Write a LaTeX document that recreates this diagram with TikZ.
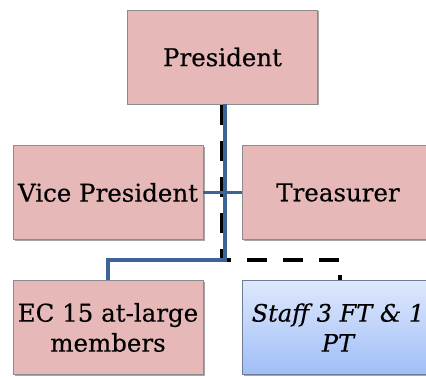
\documentclass[tikz,border=0pt]{standalone}
\usepackage{fontspec}
\setmainfont{DejaVu Serif}[FakeBold=0.35]
\usetikzlibrary{shadows}
\definecolor{pinkfill}{RGB}{230,184,183}
\definecolor{boxline}{RGB}{140,140,140}
\definecolor{linkblue}{RGB}{61,100,150}
\definecolor{stafftop}{RGB}{222,232,252}
\definecolor{staffbot}{RGB}{160,190,248}
\definecolor{staffline}{RGB}{110,125,150}
\tikzset{
  rolebox/.style={draw=boxline, line width=0.8pt, fill=pinkfill, minimum width=190pt, minimum height=94pt,
    inner sep=0pt, align=center, font=\fontsize{24.5}{30}\selectfont,
    drop shadow={shadow xshift=1.5pt, shadow yshift=-1.5pt, opacity=0.35, fill=black}},
  staffbox/.style={rolebox, draw=staffline, top color=stafftop, bottom color=staffbot, font=\fontsize{24}{30}\selectfont\itshape},
  bluelink/.style={draw=linkblue, line width=4.5pt},
  dashlink/.style={draw=black, line width=4pt, dash pattern=on 20pt off 16pt, dash phase=35pt},
}
\begin{document}
\begin{tikzpicture}[x=1pt,y=-1pt]
\useasboundingbox (0,0) rectangle (426,377);
\clip (0,0) rectangle (426,377);
\node[rolebox] (pres) at (222.5,57) {President};
\node[rolebox] (vp) at (108,192.5) {Vice President};
\node[rolebox, minimum width=192pt] (tr) at (338,192.5) {Treasurer};
\node[rolebox] (ec) at (108,327.5) {EC 15 at-large\\members};
\node[staffbox, minimum width=192pt] (staff) at (338,327.5) {Staff 3 FT \& 1\\PT};
\coordinate (j) at (225,260);
\draw[dashlink] ([xshift=-0.5pt]pres.south) -- ([xshift=-0.5pt]pres.south |- j) -- (340,260) -- (340,280);
\draw[bluelink] ([xshift=2.5pt]pres.south) -- ([xshift=2.5pt]pres.south |- j) -| (ec.north);
\draw[draw=linkblue, line width=3.5pt] (vp.east) -- (tr.west);
\end{tikzpicture}
\end{document}
